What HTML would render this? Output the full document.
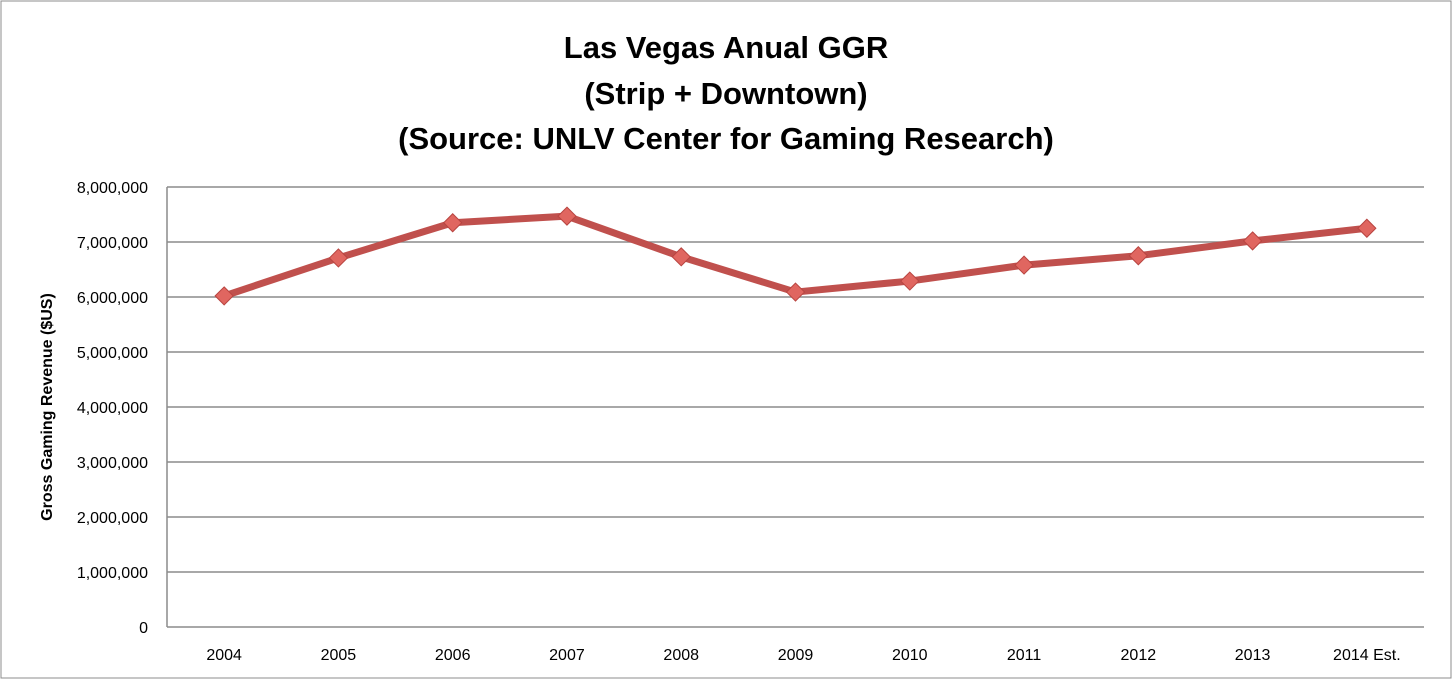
<!DOCTYPE html>
<html><head><meta charset="utf-8"><style>
body{margin:0;background:#fff;}
svg{display:block;font-family:"Liberation Sans",sans-serif;}
</style></head><body>
<svg id="chart" width="1453" height="680">
<rect x="1" y="1" width="1450" height="677" fill="#fff" stroke="#8c8c8c" stroke-width="1"/>
<g font-weight="bold" font-size="31" text-anchor="middle" fill="#000">
<text x="726" y="58">Las Vegas Anual GGR</text>
<text x="726" y="104">(Strip + Downtown)</text>
<text x="726" y="149">(Source: UNLV Center for Gaming Research)</text>
</g>
<text transform="translate(52,407) rotate(-90)" text-anchor="middle" font-size="16" font-weight="bold">Gross Gaming Revenue ($US)</text>
<g id="grid"></g><g id="axes"></g><g id="series"></g>
</svg>
<script>
const categories=["2004","2005","2006","2007","2008","2009","2010","2011","2012","2013","2014 Est."];
const values=[6020000,6710000,7350000,7470000,6730000,6090000,6290000,6580000,6750000,7020000,7250000];
const yTicks=[0,1000000,2000000,3000000,4000000,5000000,6000000,7000000,8000000];
const yTickLabels=["0","1,000,000","2,000,000","3,000,000","4,000,000","5,000,000","6,000,000","7,000,000","8,000,000"];
const NS="http://www.w3.org/2000/svg";
const L=167,R=1424,T=187,B=627,yMax=8000000;
const bw=(R-L)/categories.length;
function x(i){return L+bw*(i+0.5);}
function y(v){return B-(v/yMax)*(B-T);}
function mk(t,a,p){const e=document.createElementNS(NS,t);for(const k in a)e.setAttribute(k,a[k]);p.appendChild(e);return e;}
const grid=document.getElementById('grid'),axes=document.getElementById('axes'),series=document.getElementById('series');
yTicks.forEach((v,i)=>{
 const ln=mk('line',{x1:L,x2:R,y1:y(v),y2:y(v),stroke:'#8c8c8c','stroke-width':1.5},grid);
 
 
 const t=mk('text',{x:L-19,y:y(v)+6,'text-anchor':'end','font-size':16},axes);
 t.textContent=yTickLabels[i];
 
 
});
const ya=mk('line',{x1:L,x2:L,y1:T,y2:B,stroke:'#8c8c8c','stroke-width':1.5},axes);


categories.forEach((c,i)=>{
 const t=mk('text',{x:x(i),y:660,'text-anchor':'middle','font-size':16},axes);
 t.textContent=c;
 
 
});
const pl=mk('polyline',{points:values.map((v,i)=>x(i)+','+y(v)).join(' '),fill:'none',stroke:'#c0504d','stroke-width':7,'stroke-linejoin':'round'},series);


values.forEach((v,i)=>{
 const cx=x(i),cy=y(v),s=9;
 const d=mk('polygon',{points:`${cx},${cy-s} ${cx+s},${cy} ${cx},${cy+s} ${cx-s},${cy}`,fill:'#e06660',stroke:'#b84440','stroke-width':1},series);
 
 
});
</script>
</body></html>
